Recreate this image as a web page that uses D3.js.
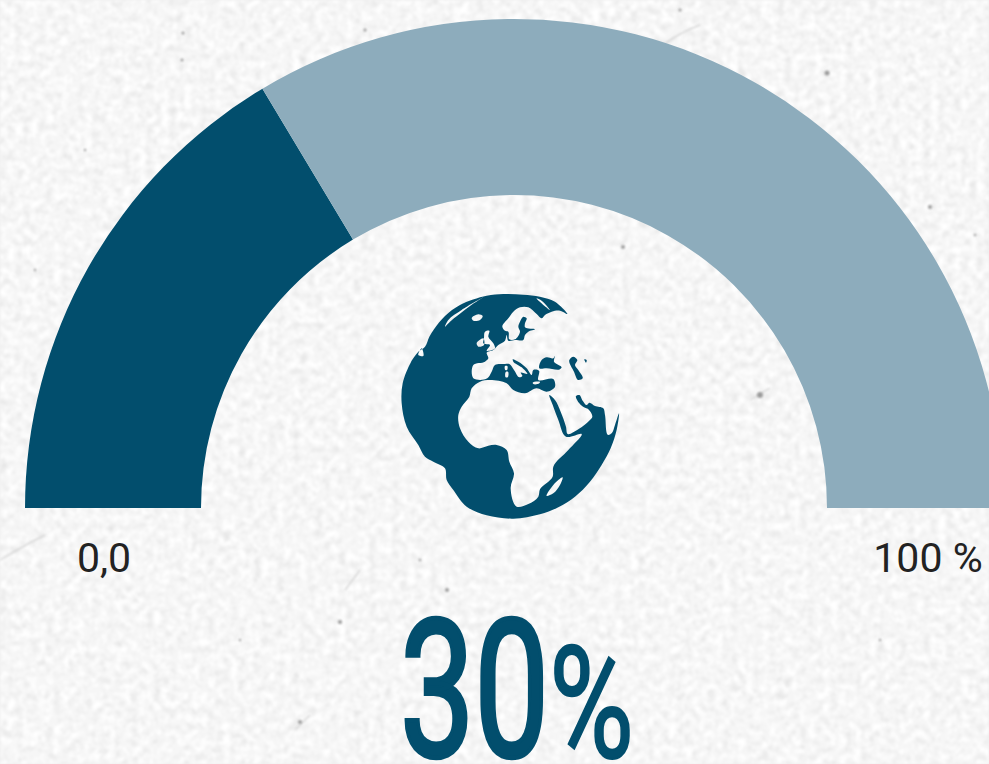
<!DOCTYPE html>
<html><head><meta charset="utf-8">
<script src="https://cdn.jsdelivr.net/npm/d3@7/dist/d3.min.js"></script>
<style>html,body{margin:0;padding:0;background:#eee;overflow:hidden}svg{display:block}</style>
</head><body><svg id="c" width="989" height="764"></svg>
<script>
const gaugeCategories = ["Achieved", "Remaining"];
const gaugeValues = [32.8, 67.2];
const minLabel = "0,0";
const maxLabel = "100 %";
const valueLabel = "30";
const unitLabel = "%";
const darkColor = "#024e6d", lightColor = "#8dacbc";
const specks = [[827,73,2.5],[623,247,2],[930,207,2],[447,590,2],[340,622,2],[182,60,1.5],[85,150,1.2],[183,33,1.5],[975,235,1.2],[612,98,1.2],[760,395,3],[365,30,1.5],[35,270,1.2],[300,722,2],[680,10,1.5],[240,640,1.2],[880,640,1.2],[420,560,1.2]];
const fibres = ["M0 560 Q25 545 45 535","M360 570 L345 590","M295 730 L310 715","M750 400 L770 388","M640 70 Q660 40 700 25","M60 360 Q110 330 140 380"];
const globeOcean = "35 370 38 310 62 248 72 232 85 215 105 200 118 170 132 148 165 108 210 75 290 47 340 42 400 44 450 50 495 65 532 102 510 92 485 95 465 105 455 115 440 102 415 82 390 82 370 95 355 115 337 140 345 152 355 155 358 178 375 178 390 155 385 140 390 125 400 110 410 115 405 130 405 142 435 148 415 155 405 165 400 180 375 180 355 182 350 165 345 182 325 195 310 210 290 218 295 235 285 245 250 255 250 295 270 300 292 295 305 275 315 255 345 252 358 252 372 270 388 292 397 288 392 278 412 282 395 262 370 245 368 238 385 245 410 265 425 285 430 270 447 272 445 300 490 297 495 320 470 335 440 325 405 340 370 330 350 310 300 300 270 305 245 325 238 350 215 380 205 405 210 445 235 485 265 505 295 497 320 495 350 510 358 545 372 580 362 625 380 680 415 672 445 650 450 628 488 590 490 560 535 510 575 462 528 470 505 420 490 380 478 345 495 360 512 395 528 440 533 462 565 448 600 420 607 410 595 388 582 382 568 370 558 348 568 345 578 362 590 375 598 368 615 378 640 385 645 405 655 465 665 460 675 435 687 400 680 450 662 505 635 555 600 605 555 650 505 682 450 703 370 716 290 706 230 680 190 630 170 600 165 565 130 545 105 530 85 495 50 440";
const globeHoles = [
 "165 140 175 120 215 90 280 52 240 78 205 105 180 125",
 "245 115 265 103 278 108 270 120 250 122",
 "440 55 480 90 455 62",
 "285 155 298 152 295 170 310 190 315 205 290 212 300 195 280 190 282 175",
 "260 190 280 175 282 195 265 200",
 "85 225 95 205 100 228",
 "470 648 490 615 518 592 510 615 490 640",
 "345 258 352 258 351 270 346 270",
 "348 275 354 275 353 292 347 292",
 "428 308 450 306 448 310 430 312"
];
const globeSeas = [
 "448 265 455 240 470 232 490 235 495 228 492 245 515 262 510 268 470 265",
 "538 240 550 230 562 240 555 255 565 270 578 295 565 300 552 275",
 "583 238 590 240 588 248"
];

const W = 989, H = 764, cx = 514, cy = 508, rIn = 313, rOut = 489;
const svg = d3.select("#c");
const defs = svg.append("defs");
const grain = defs.append("filter").attr("id","grain").attr("x",0).attr("y",0).attr("width","100%").attr("height","100%");
grain.append("feTurbulence").attr("type","fractalNoise").attr("baseFrequency",0.13).attr("numOctaves",4).attr("seed",11);
grain.append("feColorMatrix").attr("type","matrix").attr("values","0.17 0.17 0.17 0 0.67  0.17 0.17 0.17 0 0.67  0.17 0.17 0.17 0 0.67  0 0 0 0 1");
grain.append("feGaussianBlur").attr("stdDeviation",0.8);
defs.append("filter").attr("id","soft").append("feGaussianBlur").attr("stdDeviation",0.9);

svg.append("rect").attr("width",W).attr("height",H).attr("fill","#eee").attr("filter","url(#grain)");
svg.append("g").attr("filter","url(#soft)").selectAll("path").data(fibres).join("path")
  .attr("d",d=>d).attr("fill","none").attr("stroke","#d6d6d6").attr("stroke-width",1.4);
svg.append("g").attr("filter","url(#soft)").selectAll("circle").data(specks).join("circle")
  .attr("cx",d=>d[0]).attr("cy",d=>d[1]).attr("r",d=>d[2]).attr("fill","#9a9a9a");

const pie = d3.pie().sort(null).startAngle(-Math.PI/2).endAngle(Math.PI/2);
const arc = d3.arc().innerRadius(rIn).outerRadius(rOut);
svg.append("g").attr("transform",`translate(${cx},${cy})`).selectAll("path")
  .data(pie(gaugeValues)).join("path").attr("d",arc).attr("fill",(d,i)=>i?lightColor:darkColor);

const toPts = s => d3.pairs(s.split(" ").map(Number)).filter((_,i)=>i%2===0);
const shape = d3.line().curve(d3.curveCatmullRomClosed.alpha(0.7));
const globeD = [globeOcean, ...globeHoles, ...globeSeas].map(s=>shape(toPts(s))).join("");
svg.append("path").attr("d",globeD).attr("fill",darkColor).attr("fill-rule","evenodd")
  .attr("transform","translate(390,280) scale(0.3333)");

const lab = "Roboto, sans-serif";
svg.append("text").attr("x",104).attr("y",572).attr("text-anchor","middle").attr("font-family",lab).attr("font-size",41).attr("fill","#222").text(minLabel);
svg.append("text").attr("x",928).attr("y",572).attr("text-anchor","middle").attr("font-family",lab).attr("font-size",41).attr("fill","#222").text(maxLabel);
svg.append("text").attr("x",400).attr("y",756).attr("font-family",lab).attr("font-size",192).attr("font-weight",400).attr("textLength",149).attr("lengthAdjust","spacingAndGlyphs")
  .attr("fill",darkColor).attr("stroke",darkColor).attr("stroke-width",4.5).text(valueLabel);
svg.append("text").attr("x",549).attr("y",757).attr("font-family",lab).attr("font-size",156).attr("font-weight",400).attr("textLength",85).attr("lengthAdjust","spacingAndGlyphs")
  .attr("fill",darkColor).attr("stroke",darkColor).attr("stroke-width",2).text(unitLabel);
</script></body></html>
